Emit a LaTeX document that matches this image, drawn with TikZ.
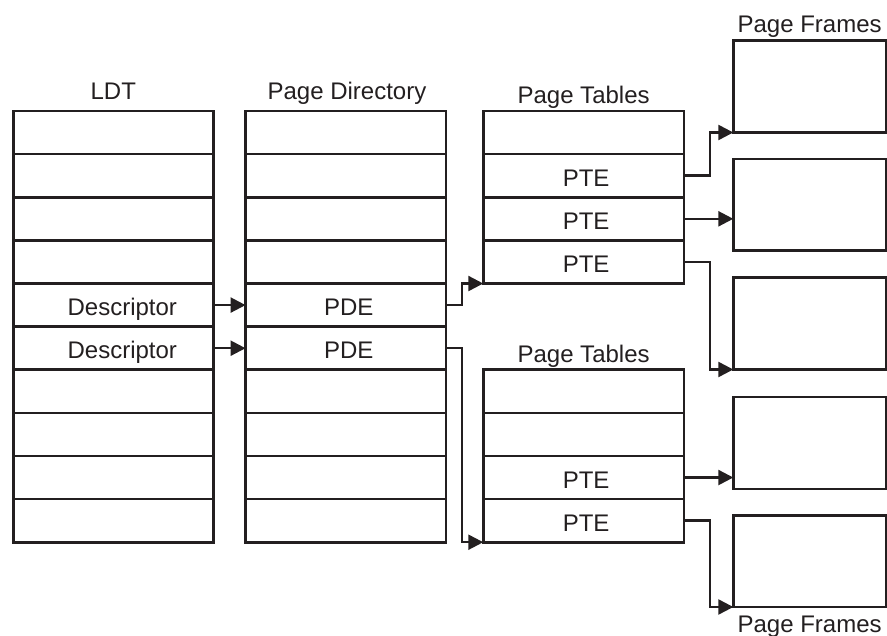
\documentclass[tikz,border=0pt]{standalone}
\usepackage{fontspec}
\setmainfont{Liberation Sans}
\usetikzlibrary{arrows.meta}
\definecolor{ink}{HTML}{231F20}
\begin{document}
\begin{tikzpicture}[x=1pt,y=-1pt,line join=miter,
  cell/.style={draw=ink,line width=2.6pt,minimum width=200pt,minimum height=43.13pt,
    inner sep=0pt,outer sep=0pt,anchor=north},
  ctext/.style={text=ink,inner sep=0pt,font=\fontsize{24}{28}\selectfont,
    text height=21.5pt,text depth=0pt},
  pframe/.style={draw=ink,line width=2.6pt,minimum width=152.7pt,minimum height=91.8pt,
    inner sep=0pt,outer sep=0pt,anchor=north west},
  lbl/.style={font=\fontsize{24}{28}\selectfont,text=ink,anchor=base,inner sep=0pt},
  conn/.style={draw=ink,line width=2.4pt,-{Triangle[length=15pt,width=15pt]}}]
\useasboundingbox (0,0) rectangle (887,636);
% LDT
\foreach \i in {1,...,10}
  \node[cell] (l\i) at (113.3,{111+(\i-1)*43.13}) {};
% Page directory
\foreach \i in {1,...,10}
  \node[cell,minimum width=200.5pt] (d\i) at (345.8,{111+(\i-1)*43.13}) {};
% Page tables (top)
\foreach \i in {1,...,4}
  \node[cell,minimum width=200.7pt] (a\i) at (583.6,{111+(\i-1)*43.13}) {};
% Page tables (bottom)
\foreach \i in {1,...,4}
  \node[cell,minimum width=200.7pt] (b\i) at (583.6,{369.7+(\i-1)*43.13}) {};
% cell texts
\node[ctext] (tl5) at ([xshift=9pt]l5.center) {Descriptor};
\node[ctext] (tl6) at ([xshift=9pt]l6.center) {Descriptor};
\node[ctext] (td5) at ([xshift=3pt]d5.center) {PDE};
\node[ctext] (td6) at ([xshift=3pt]d6.center) {PDE};
\node[ctext] (ta2) at ([xshift=2.5pt]a2.center) {PTE};
\node[ctext] (ta3) at ([xshift=2.5pt]a3.center) {PTE};
\node[ctext] (ta4) at ([xshift=2.5pt]a4.center) {PTE};
\node[ctext] (tb3) at ([xshift=2.5pt]b3.center) {PTE};
\node[ctext] (tb4) at ([xshift=2.5pt]b4.center) {PTE};
% Page frames
\node[pframe] (f1) at (733.3,40.7) {};
\node[pframe] (f2) at (733.3,159) {};
\node[pframe] (f3) at (733.3,277.7) {};
\node[pframe] (f4) at (733.3,397) {};
\node[pframe] (f5) at (733.3,515.2) {};
% labels
\node[lbl] (tldt) at (113.3,100) {LDT};
\node[lbl] (tpd) at (347,100) {Page Directory};
\node[lbl] (tpt1) at (583.6,104) {Page Tables};
\node[lbl] (tpt2) at (583.6,362.7) {Page Tables};
\node[lbl] (tpf1) at (809.6,32.3) {Page Frames};
\node[lbl] (tpf2) at (809.6,632) {Page Frames};
% connectors
\draw[conn] (l5.east) -- (d5.west);
\draw[conn] (l6.east) -- (d6.west);
\draw[conn] (d5.east) -- ++(15.7,0) |- (a4.south west);
\draw[conn] (d6.east) -- ++(15.7,0) |- (b4.south west);
\draw[conn] (a2.east) -- ++(26,0) |- (f1.south west);
\draw[conn] (a3.east) -- (a3.east -| f2.west);
\draw[conn] (a4.east) -- ++(26,0) |- (f3.south west);
\draw[conn] (b3.east) -- (b3.east -| f4.west);
\draw[conn] (b4.east) -- ++(26,0) |- (f5.south west);
\end{tikzpicture}
\end{document}
